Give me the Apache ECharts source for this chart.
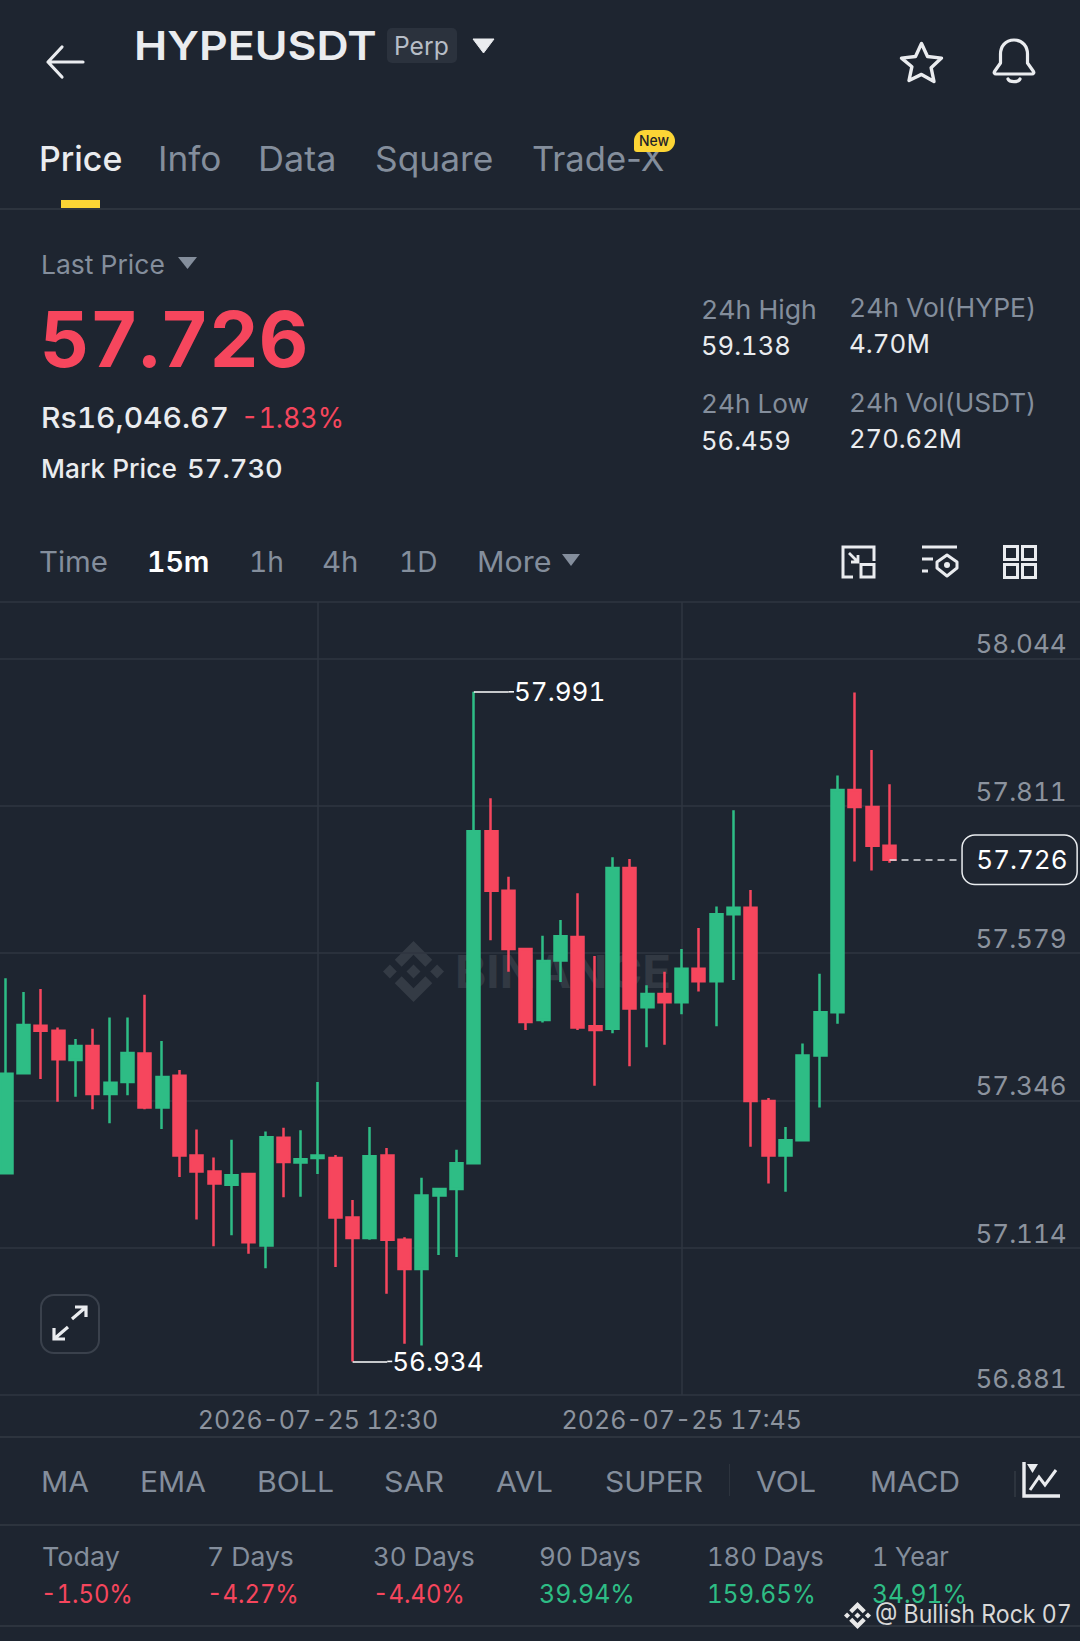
<!DOCTYPE html>
<html><head><meta charset="utf-8">
<script src="https://cdn.jsdelivr.net/npm/echarts@6/dist/echarts.min.js"></script>
<style>
html,body{margin:0;padding:0;background:#1E2530;width:1080px;height:1641px;overflow:hidden;font-family:Inter,"Noto Sans",sans-serif}
#under,#over{position:absolute;left:0;top:0;width:1080px;height:1641px;pointer-events:none}
#chart{position:absolute;left:-3px;top:0;width:1095px;height:1641px}
#chart text{font-variant-numeric:tabular-nums!important}
#under{z-index:1}#chart{z-index:2}#over{z-index:3}
.t{position:absolute;white-space:nowrap;line-height:normal;font-family:Inter,"Noto Sans",sans-serif;font-variant-numeric:tabular-nums;transform-origin:0 50%}
.b{position:absolute}
#over svg,#under svg{position:absolute;overflow:visible}
</style></head><body>
<div id="under"></div><div id="chart"></div><div id="over"></div>
<script>
// ---- chart data (prices) ----
const startTime = '2026-07-25 08:00';
const opens  = [57.231,57.389,57.464,57.456,57.410,57.432,57.356,57.375,57.420,57.335,57.385,57.259,57.234,57.213,57.230,57.117,57.287,57.248,57.255,57.255,57.161,57.129,57.259,57.126,57.080,57.196,57.206,57.247,57.771,57.677,57.585,57.473,57.567,57.604,57.463,57.459,57.713,57.493,57.514,57.501,57.554,57.534,57.640,57.650,57.345,57.259,57.283,57.417,57.485,57.836,57.809,57.748];
const closes = [57.388,57.465,57.456,57.411,57.432,57.356,57.374,57.421,57.335,57.383,57.259,57.234,57.215,57.228,57.122,57.288,57.249,57.253,57.259,57.161,57.129,57.258,57.126,57.080,57.196,57.206,57.247,57.771,57.677,57.585,57.470,57.566,57.605,57.461,57.457,57.713,57.491,57.514,57.501,57.554,57.534,57.640,57.650,57.345,57.259,57.283,57.417,57.485,57.836,57.809,57.748,57.726];
const lows   = [57.231,57.389,57.380,57.344,57.352,57.332,57.310,57.354,57.332,57.301,57.225,57.158,57.116,57.133,57.104,57.081,57.193,57.194,57.230,57.083,56.934,57.126,57.041,56.962,56.959,57.102,57.099,57.247,57.599,57.549,57.457,57.469,57.533,57.457,57.369,57.452,57.400,57.430,57.434,57.482,57.518,57.463,57.536,57.273,57.215,57.202,57.283,57.335,57.467,57.723,57.709,57.721];
const highs  = [57.539,57.517,57.522,57.461,57.443,57.459,57.477,57.477,57.513,57.440,57.394,57.300,57.256,57.284,57.232,57.297,57.303,57.299,57.375,57.260,57.189,57.304,57.271,57.130,57.224,57.206,57.268,57.991,57.823,57.699,57.585,57.606,57.631,57.673,57.574,57.730,57.727,57.528,57.549,57.585,57.618,57.652,57.804,57.678,57.350,57.304,57.436,57.546,57.859,57.990,57.899,57.845];
const yTickLabels = ['56.881','57.114','57.346','57.579','57.811','58.044'];
const xTickLabels = {18:'2026-07-25 12:30', 39:'2026-07-25 17:45'};
const highLabel = {index:27, value:57.991};
const lowLabel  = {index:20, value:56.934};
const lastPrice = 57.726;
const slots = 63;

const UP='#2EBD85', DOWN='#F6465D', GRIDC='#2F3640', AXT='#8C939E';
const categories = Array.from({length:slots},(_,i)=>{
  const m = 8*60 + i*15, h = Math.floor(m/60)%24, mm = m%60;
  return startTime.slice(0,11)+String(h).padStart(2,'0')+':'+String(mm).padStart(2,'0');
});
const ohlc = opens.map((o,i)=>[o,closes[i],lows[i],highs[i]]);
const yMin=56.881, yStep=0.2326, yMax=58.1328;

const chart = echarts.init(document.getElementById('chart'),null,{renderer:'svg'});
const lead = (c1,c2,text,labelExtra,lineExtra)=>[
  {coord:c1, symbol:'none', lineStyle:Object.assign({color:'#FFFFFF',width:1.6,type:'solid'},lineExtra||{}),
   label:Object.assign({show:true,position:'end',distance:0,formatter:text,color:'#FFFFFF',fontSize:26,fontFamily:'Inter'},labelExtra||{})},
  {coord:c2, symbol:'none'}
];
const stub = (w)=>({rich:{d:{width:w,height:1.6,backgroundColor:'#FFFFFF'},t:{color:'#FFFFFF',fontSize:26,fontFamily:'Inter'}}});
chart.setOption({
  backgroundColor:'transparent',
  animation:false,
  grid:{left:0.54,top:602,width:1091.16,height:793,containLabel:false},
  xAxis:{type:'category',data:categories,boundaryGap:true,
    axisLine:{show:false},axisTick:{show:false},
    splitLine:{show:true,alignWithLabel:true,interval:(i)=>i in xTickLabels,lineStyle:{color:GRIDC,width:1.5}},
    axisLabel:{interval:(i)=>i in xTickLabels,formatter:(v,i)=>xTickLabels[i]||v,color:AXT,fontSize:25,fontFamily:'Inter',margin:12,hideOverlap:false}
  },
  yAxis:{type:'value',position:'right',min:yMin,max:yMax,interval:yStep,scale:true,
    axisLine:{show:false},axisTick:{show:false},
    splitLine:{show:true,lineStyle:{color:GRIDC,width:1.5}},
    axisLabel:{inside:true,margin:22,showMaxLabel:false,showMinLabel:true,
      formatter:(v,i)=>i===0?'{low|'+yTickLabels[0]+'}':(yTickLabels[i]||''),
      color:AXT,fontSize:26,fontFamily:'Inter',verticalAlign:'bottom',lineHeight:29,
      rich:{low:{color:AXT,fontSize:26,fontFamily:'Inter',lineHeight:33}}}
  },
  series:[{type:'candlestick',data:ohlc,barWidth:12.5,
    itemStyle:{color:UP,color0:DOWN,borderColor:UP,borderColor0:DOWN,borderWidth:2.5},
    markLine:{silent:true,symbol:'none',animation:false,
      data:[
        lead([highLabel.index,highLabel.value],[29,highLabel.value],'{d|}{t|'+highLabel.value+'}',stub(5.5)),
        lead([lowLabel.index,lowLabel.value],[22,lowLabel.value],'{d|}{t|'+lowLabel.value+'}',stub(5)),
        lead([51,lastPrice],[55,lastPrice],String(lastPrice),
          {offset:[4,0],padding:[11,19,11,13.5],borderColor:'#E9ECEF',borderWidth:1.5,borderRadius:12,backgroundColor:'#1E2530',color:'#FFFFFF'},
          {type:[7,5],width:1.5,color:'#DDE0E4'})
      ]}
  }]
});

// ---- page chrome ----
const over=document.getElementById('over'), under=document.getElementById('under');
function T(s,x,b,size,color,w,fit,host,prop){
  const e=document.createElement('span');e.className='t';e.textContent=s;
  e.style.cssText+=`left:${x-1-size*.015}px;top:${b-0.96875*size}px;font-size:${size}px;color:${color};font-weight:${w||400};`;
  if(prop)e.style.fontVariantNumeric='normal';
  (host||over).appendChild(e);
  if(fit){const r=e.getBoundingClientRect().width;e.style.transform=`scaleX(${(fit+size*.07)/r})`;}
  return e;
}
function B(x,y,w,h,bg,extra,host){
  const e=document.createElement('div');e.className='b';
  e.style.cssText+=`left:${x}px;top:${y}px;width:${w}px;height:${h}px;background:${bg};${extra||''}`;
  (host||over).appendChild(e);return e;
}
function S(x,y,w,h,vb,inner,host){
  const n='http://www.w3.org/2000/svg';const e=document.createElementNS(n,'svg');
  e.setAttribute('viewBox',vb);e.setAttribute('width',w);e.setAttribute('height',h);
  e.style.left=x+'px';e.style.top=y+'px';e.innerHTML=inner;(host||over).appendChild(e);return e;
}
const GREY='#848E9C', LT='#EAECEF', WHITE='#FFFFFF', LINE='#2D343E';
// header
S(45,44,40,36,'0 0 40 36','<path d="M38 18H3M17 3L3 18l14 15" fill="none" stroke="#EAECEF" stroke-width="3.2" stroke-linecap="round" stroke-linejoin="round"/>');
T('HYPEUSDT',135.5,60,40,LT,600,240);
B(387,28,70,35,'#2B323D','border-radius:5px');
T('Perp',395,55.5,25,'#B7BDC6',400,53);
S(472,38,23,16,'0 0 23 16','<path d="M1 1h21L11.5 15z" fill="#EAECEF" stroke="#EAECEF" stroke-linejoin="round"/>');
S(899,41,45,42,'0 0 45 42','<path d="M22.5 2.5l6 13 14 1.6-10.4 9.6 2.9 13.8-12.5-7.1L10 39.5l2.9-13.8L2.5 17.1l14-1.6z" fill="none" stroke="#EAECEF" stroke-width="3.4" stroke-linejoin="round"/>');
S(992,38,44,47,'0 0 44 47','<path d="M22 2c9 0 13.5 7 13.5 14v9l6 8.5c.8 1.3 0 2.5-1.5 2.5H4c-1.500 0-2.300-1.200-1.500-2.500l6-8.500v-9C8.500 9 13 2 22 2z" fill="none" stroke="#EAECEF" stroke-width="3.2" stroke-linejoin="round"/><path d="M16 41c1.500 3.500 10.500 3.500 12 0" fill="none" stroke="#EAECEF" stroke-width="3.2" stroke-linecap="round"/>');
// tabs
T('Price',41,170.5,34,LT,500,81);
T('Info',160,170.5,34,GREY,400,61);
T('Data',260,170.5,34,GREY,400,76);
T('Square',376.5,170.5,34,GREY,400,116);
T('Trade-X',533.5,170.5,34,GREY,400,130,over,true);
B(633.5,129.5,41.5,22.5,'#FCD535','border-radius:11px 11px 11px 3px');
T('New',640.5,146,15,'#1E2329',500,29);
B(60.5,200,39.5,8,'#FCD535');
B(0,208,1080,1.5,LINE);
// price block
T('Last Price',42.5,274,26,GREY,400,122);
S(177.5,257,19,12,'0 0 19 12','<path d="M0 0h19L9.500 12z" fill="#848E9C"/>');
T('57.726',42,367,77,DOWN,700,263);
T('Rs16,046.67',42.5,428,29,LT,500,186);
T('-1.83%',242,428,29,DOWN,400,101);
T('Mark Price',42.5,478,26,LT,500,134);
T('57.730',188,478,26,LT,500,94);
T('24h High',702.5,318.800,26,GREY,400,114);
T('24h Vol(HYPE)',850.5,316.800,26,GREY,400,185.500);
T('59.138',702.5,355.5,26,LT,400,88);
T('4.70M',850.5,353,26,LT,400,79);
T('24h Low',702.5,413.400,26,GREY,400,106);
T('24h Vol(USDT)',850.5,412,26,GREY,400,185.500);
T('56.459',702.5,450,26,LT,400,88);
T('270.62M',850.5,448,26,LT,400,111);
// interval row
T('Time',40,572,28,GREY,400,67);
T('15m',148.5,572,28,WHITE,600,60.5);
T('1h',250,572,28,GREY,400,33);
T('4h',323.5,572,28,GREY,400,34.5);
T('1D',400.5,572,28,GREY,400,36.5);
T('More',478.5,572,28,GREY,400,72.5);
S(562,554,18,12,'0 0 18 12','<path d="M0 0h18L9 12z" fill="#848E9C"/>');
S(841,545,35,34,'0 0 35 34','<path d="M12 32H2V2h31v14" fill="none" stroke="#EAECEF" stroke-width="3"/><rect x="20" y="19.500" width="13" height="12.500" fill="none" stroke="#EAECEF" stroke-width="3"/><path d="M8 8l9 9M17 10v7h-7" fill="none" stroke="#EAECEF" stroke-width="2.800"/>');
S(921,545,37,34,'0 0 37 34','<path d="M1 2h35M1 14h11M1 26h6M9 32" fill="none" stroke="#EAECEF" stroke-width="3"/><path d="M26 10l10 7v6l-10 8-10-8v-6z" fill="none" stroke="#EAECEF" stroke-width="3" stroke-linejoin="round"/><circle cx="26" cy="20" r="3" fill="#EAECEF"/>');
S(1003,545,34,34,'0 0 34 34','<g fill="none" stroke="#EAECEF" stroke-width="3"><rect x="1.500" y="1.500" width="13" height="13"/><rect x="19.500" y="1.500" width="13" height="13"/><rect x="1.500" y="19.500" width="13" height="13"/><rect x="19.500" y="19.500" width="13" height="13"/></g>');
// expand button
B(40,1294,56,56,'transparent','border:2px solid #3A414C;border-radius:14px;box-sizing:content-box;');
S(51,1305,38,36,'0 0 38 36','<path d="M21 14L35 2M24 2h11v10M17 22L3 34M3 23v11h11" fill="none" stroke="#EAECEF" stroke-width="3.200"/>');
// watermark under the candles
S(383,941,61,61,'0 0 126.61 126.61','<g fill="#343B45"><path d="M38.730 53.200l24.590-24.580 24.600 24.600 14.300-14.310L63.320 0 24.430 38.900l14.300 14.300z"/><path d="M0 63.310l14.300-14.310 14.310 14.310-14.310 14.300z"/><path d="M38.730 73.410l24.590 24.590 24.600-24.600 14.310 14.290-38.900 38.910-38.910-38.880-.02-.02z"/><path d="M98 63.310l14.300-14.310 14.310 14.300-14.310 14.320z"/><path d="M77.830 63.300L63.320 48.780 52.590 59.510l-1.240 1.230-2.540 2.540 14.510 14.500 14.510-14.470z"/></g>',under);
T('BINANCE',457,988,45,'#323943',700,213,under);
// indicator row
B(0,1436,1080,1.5,LINE);
[['MA',42.5,46],['EMA',141,64],['BOLL',258,75],['SAR',385.5,58],['AVL',497,55],['SUPER',606,96],['VOL',757.5,58],['MACD',871,88]]
 .forEach(a=>T(a[0],a[1],1492.500,28,GREY,400,a[2]));
B(728.5,1464,1.5,32,LINE);
B(1014,1471,1.5,26,LINE);
S(1022,1461,38,38,'0 0 38 38','<path d="M2 1v34h36" fill="none" stroke="#EAECEF" stroke-width="3.400"/><path d="M8 29l9-13 6 8 11-15" fill="none" stroke="#EAECEF" stroke-width="3"/><path d="M5 3h11l-5.500 9z" fill="#EAECEF"/>');
B(0,1524,1080,1.5,LINE);
// period row
[['Today',43.5,76,'-1.50%',42.5,90,DOWN],['7 Days',208.5,85,'-4.27%',208.5,90,DOWN],['30 Days',374.5,100,'-4.40%',374.5,90,DOWN],
 ['90 Days',540.5,100,'39.94%',540.5,94,UP],['180 Days',708,115,'159.65%',708,107,UP],['1 Year',873,75,'34.91%',873,93,UP]]
 .forEach(a=>{T(a[0],a[1],1566,26,GREY,400,a[2]);T(a[3],a[4],1603,26,a[6],400,a[5]);});
B(0,1625,1080,1.5,LINE);
// attribution
S(844,1602,27,27,'0 0 126.61 126.61','<g fill="#E8E8E8"><path d="M38.730 53.200l24.590-24.580 24.600 24.600 14.300-14.310L63.320 0 24.430 38.900l14.300 14.300z"/><path d="M0 63.310l14.300-14.310 14.310 14.310-14.310 14.300z"/><path d="M38.730 73.410l24.590 24.590 24.600-24.600 14.310 14.290-38.900 38.910-38.910-38.880-.02-.02z"/><path d="M98 63.310l14.300-14.310 14.310 14.300-14.310 14.320z"/><path d="M77.830 63.300L63.320 48.780 52.590 59.510l-1.240 1.230-2.540 2.540 14.510 14.500 14.510-14.470z"/></g>');
T('@ Bullish Rock 07',876,1623,25,'#D8D8D8',400,195);
</script>
</body></html>
